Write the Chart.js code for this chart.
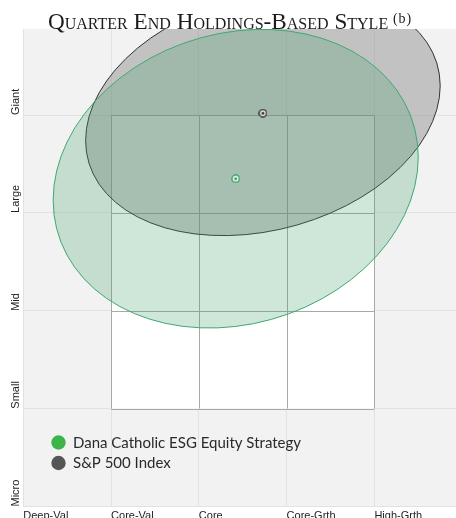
<!DOCTYPE html>
<html>
<head>
<meta charset="utf-8">
<script src="https://cdn.jsdelivr.net/npm/chart.js@4"></script>
<style>
  html, body { margin: 0; padding: 0; background: #fff; overflow: hidden; }
  #wrap { position: relative; width: 456px; height: 518px; overflow: hidden; }
  #chart { position: absolute; left: 0; top: 0; }
  #title {
    position: absolute; left: 48px; top: 8px; z-index: 2;
    font-family: 'Liberation Serif', serif; font-size: 23.2px; font-variant: small-caps;
    color: #1c1c1c; white-space: nowrap; line-height: 26px;
  }
  #title sup { font-size: 14px; vertical-align: baseline; position: relative; top: -6px; font-variant: normal; letter-spacing: 1px; margin-left: -1px; }
</style>
</head>
<body>
<div id="wrap">
  <canvas id="chart" width="456" height="540"></canvas>
  <div id="title">Quarter End Holdings-Based Style <sup>(b)</sup></div>
</div>
<script>
const styleLabels = ['Deep-Val', 'Core-Val', 'Core', 'Core-Grth', 'High-Grth'];
const sizeLabels = ['Micro', 'Small', 'Mid', 'Large', 'Giant'];

const seriesNames = ['Dana Catholic ESG Equity Strategy', 'S&P 500 Index'];
const centroidX = [2.42, 2.73];
const centroidY = [3.35, 4.02];
// ownership zone: half width (style units), rise at the widest point, vertical half chord (size units)
const zoneHalfWidth = [2.08, 2.02];
const zoneRise = [0.22, 0.28];
const zoneHalfHeight = [1.51, 1.22];

// the white box covering the core style / size grid
const boxX = [1, 4];
const boxY = [1, 4];

const legendColors = ['#3cb44a', '#555555'];
const zoneFill = ['rgba(60,160,100,0.25)', 'rgba(128,128,128,0.42)'];
const zoneLine = ['#3fa872', '#333333'];
const markerRing = ['#2f9a5c', '#222222'];

function makeMarker(col) {
    const c = document.createElement('canvas');
    c.width = 9; c.height = 9;
    const g = c.getContext('2d');
    g.beginPath(); g.arc(4.5, 4.5, 3.6, 0, Math.PI * 2);
    g.fillStyle = '#fff'; g.fill();
    g.lineWidth = 1.3; g.strokeStyle = col; g.stroke();
    g.beginPath(); g.arc(4.5, 4.5, 1.5, 0, Math.PI * 2);
    g.fillStyle = col; g.fill();
    return c;
}

const bgPlugin = {
    id: 'bg',
    beforeDraw(chart) {
        const { ctx, chartArea: a } = chart;
        ctx.save();
        ctx.fillStyle = '#f2f2f2';
        ctx.fillRect(a.left, a.top, a.right - a.left, a.bottom - a.top);
        ctx.restore();
    }
};

const zonePlugin = {
    id: 'zones',
    beforeDatasetsDraw(chart) {
        const { ctx, chartArea: a } = chart;
        const xs = chart.scales.x, ys = chart.scales.y;
        ctx.save();
        // box
        const x0 = xs.getPixelForValue(boxX[0]), x1 = xs.getPixelForValue(boxX[1]);
        const y0 = ys.getPixelForValue(boxY[0]), y1 = ys.getPixelForValue(boxY[1]);
        ctx.fillStyle = '#fff';
        ctx.fillRect(x0, y1, x1 - x0, y0 - y1);
        ctx.strokeStyle = '#a8a8a8';
        ctx.lineWidth = 1;
        ctx.beginPath();
        for (let v = boxX[0]; v <= boxX[1]; v++) {
            const p = Math.round(xs.getPixelForValue(v)) + 0.5;
            ctx.moveTo(p, y1); ctx.lineTo(p, y0);
        }
        for (let v = boxY[0]; v <= boxY[1]; v++) {
            const p = Math.round(ys.getPixelForValue(v)) + 0.5;
            ctx.moveTo(x0, p); ctx.lineTo(x1, p);
        }
        ctx.stroke();

        // ellipses, index first drawn last
        ctx.beginPath();
        ctx.rect(a.left, a.top, a.right - a.left, a.bottom - a.top);
        ctx.clip();
        for (let i = seriesNames.length - 1; i >= 0; i--) {
            const cx = xs.getPixelForValue(centroidX[i]);
            const cy = ys.getPixelForValue(centroidY[i]);
            const ux = xs.getPixelForValue(centroidX[i] + zoneHalfWidth[i]) - cx;
            const uy = ys.getPixelForValue(centroidY[i] + zoneRise[i]) - cy;
            const vy = ys.getPixelForValue(centroidY[i] + zoneHalfHeight[i]) - cy;
            ctx.save();
            ctx.translate(cx, cy);
            ctx.transform(ux, uy, 0, vy, 0, 0);
            ctx.beginPath();
            ctx.arc(0, 0, 1, 0, Math.PI * 2);
            ctx.restore();
            ctx.fillStyle = zoneFill[i];
            ctx.fill();
            ctx.lineWidth = 1;
            ctx.strokeStyle = zoneLine[i];
            ctx.stroke();
        }
        ctx.restore();
    }
};

const legendPlugin = {
    id: 'legendBox',
    afterDraw(chart) {
        const { ctx } = chart;
        ctx.save();
        ctx.font = '15px Lato';
        ctx.textBaseline = 'middle';
        seriesNames.forEach((name, i) => {
            const y = 442.5 + i * 20.5;
            ctx.beginPath();
            ctx.arc(58.5, y, 7.2, 0, Math.PI * 2);
            ctx.fillStyle = legendColors[i];
            ctx.fill();
            ctx.fillStyle = '#2a2a2a';
            ctx.fillText(name, 73, y + 0.5);
        });
        ctx.restore();
    }
};

new Chart(document.getElementById('chart'), {
    type: 'scatter',
    data: {
        datasets: seriesNames.map((name, i) => ({
            label: name,
            data: [{ x: centroidX[i], y: centroidY[i] }],
            pointStyle: makeMarker(markerRing[i]),
            pointRadius: 4
        }))
    },
    options: {
        responsive: false,
        animation: false,
        events: [],
        layout: { autoPadding: false, padding: { left: 16, top: 29, right: 0, bottom: 11.5 } },
        plugins: { legend: { display: false }, tooltip: { enabled: false } },
        scales: {
            x: {
                type: 'linear', min: 0, max: 4.93,
                afterBuildTicks: s => { s.ticks = styleLabels.map((_, i) => ({ value: i })); },
                afterFit: s => { s.height = 22; s.paddingLeft = 0; s.paddingRight = 0; },
                border: { display: false },
                grid: { color: '#e2e2e2', drawTicks: false },
                ticks: {
                    align: 'start', padding: 3, maxRotation: 0, autoSkip: false, color: '#222',
                    font: { family: 'Liberation Sans', size: 11 },
                    callback: v => styleLabels[v]
                }
            },
            y: {
                type: 'linear', min: 0, max: 4.88,
                afterBuildTicks: s => { s.ticks = sizeLabels.map((_, i) => ({ value: i })); },
                afterFit: s => { s.width = 7.3; s.paddingTop = 0; s.paddingBottom = 0; },
                border: { display: false },
                grid: { color: '#e2e2e2', drawTicks: false },
                ticks: {
                    mirror: true, crossAlign: 'near', padding: -7.8,
                    minRotation: 90, maxRotation: 90, autoSkip: false, color: '#222',
                    font: { family: 'Liberation Sans', size: 11 },
                    callback: v => sizeLabels[v]
                }
            }
        }
    },
    plugins: [bgPlugin, zonePlugin, legendPlugin]
});
</script>
</body>
</html>
